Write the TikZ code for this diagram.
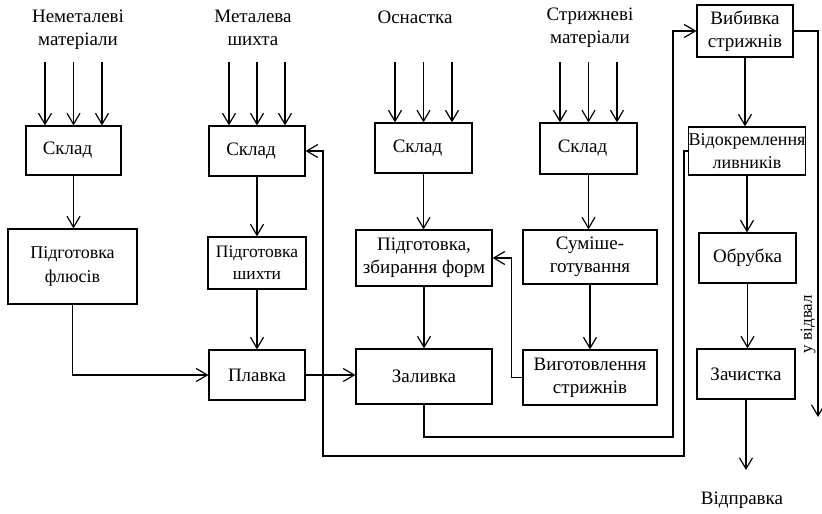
\documentclass[tikz,border=0pt]{standalone}
\usepackage{fontspec}
\setmainfont{Liberation Serif}
\usetikzlibrary{arrows.meta,positioning}
\begin{document}
\begin{tikzpicture}[x=1pt,y=-1pt,
  font=\fontsize{19}{23}\selectfont,
  line width=1.2pt,
  box/.style={draw,rectangle,inner sep=1pt,align=center},
  arr/.style={-{Straight Barb[length=11pt,width=13pt,line width=1.2pt]}},
  lbl/.style={align=center,inner sep=0pt}]
\useasboundingbox (0,0) rectangle (822,514);

% labels
\node[lbl] (l1) at (78,30) {Неметалеві\\матеріали};
\node[lbl] (l2) at (253,28) {Металева\\шихта};
\node[lbl] (l3) at (415,17) {Оснастка};
\node[lbl] (l4) at (590,28) {Стрижневі\\матеріали};
\node[lbl] (l5) at (742,500) {Відправка};

% boxes
\node[box,minimum width=95pt,minimum height=49pt] (s1) at (73.5,150.5) {\hspace*{-12pt}Склад};
\node[box,minimum width=129pt,minimum height=75pt,font=\fontsize{18}{24}\selectfont] (pf) at (72.5,266.5) {Підготовка\\флюсів};
\node[box,minimum width=96pt,minimum height=50pt] (s2) at (257,151) {\hspace*{-12pt}Склад};
\node[box,minimum width=98pt,minimum height=52pt,font=\fontsize{17.5}{22}\selectfont] (psh) at (257,263) {Підготовка\\шихти};
\node[box,minimum width=96pt,minimum height=50pt] (pl) at (257,375) {Плавка};
\node[box,minimum width=97pt,minimum height=50pt] (s3) at (423.5,148) {\hspace*{-12pt}Склад};
\node[box,minimum width=136pt,minimum height=56pt] (pzf) at (424,258) {Підготовка,\\збирання форм};
\node[box,minimum width=136pt,minimum height=55pt] (zal) at (424,376.5) {Заливка};
\node[box,minimum width=97pt,minimum height=51pt] (s4) at (588.5,148.5) {\hspace*{-12pt}Склад};
\node[box,minimum width=134pt,minimum height=54pt] (sum) at (590,257) {Суміше-\\готування};
\node[box,minimum width=134pt,minimum height=55pt] (vyg) at (590,377.5) {Виготовлення\\стрижнів};
\node[box,minimum width=96pt,minimum height=52pt] (vyb) at (745,31) {Вибивка\\стрижнів};
\node[box,minimum width=116pt,minimum height=48pt,inner sep=0pt,font=\fontsize{18}{23}\selectfont] (vid) at (747,151) {Відокремлення\\ливників};
\node[box,minimum width=97pt,minimum height=50pt] (obr) at (747.5,258) {Обрубка};
\node[box,minimum width=98pt,minimum height=50pt] (zach) at (746,374) {Зачистка};

% input arrow tops
\coordinate (a1) at (45,62); \coordinate (a2) at (73.5,62); \coordinate (a3) at (102,62);
\coordinate (b1) at (229,62); \coordinate (b2) at (257,62); \coordinate (b3) at (285,62);
\coordinate (c1) at (395,62); \coordinate (c2) at (423.5,62); \coordinate (c3) at (452,62);
\coordinate (d1) at (560,62); \coordinate (d2) at (588.5,62); \coordinate (d3) at (617,62);
\foreach \p/\b in {a1/s1,a2/s1,a3/s1,b1/s2,b2/s2,b3/s2,c1/s3,c2/s3,c3/s3,d1/s4,d2/s4,d3/s4}
  \draw[arr] (\p) -- (\p |- \b.north);

% vertical chains
\draw[arr] (s1.south) -- (s1.south |- pf.north);
\draw[arr] (s2.south) -- (psh.north);
\draw[arr] (psh.south) -- (pl.north);
\draw[arr] (s3.south) -- (s3.south |- pzf.north);
\draw[arr] (pzf.south) -- (zal.north);
\draw[arr] (s4.south) -- (s4.south |- sum.north);
\draw[arr] (sum.south) -- (vyg.north);
\draw[arr] (vyb.south) -- (vyb.south |- vid.north);
\draw[arr] (vid.south) -- (vid.south |- obr.north);
\draw[arr] (obr.south) -- (obr.south |- zach.north);
\coordinate (out) at (746,470);
\draw[arr] (zach.south) -- (out);

% cross connections
\draw[arr] (pf.south) |- (pl.west);
\draw[arr] (pl.east) -- (pl.east -| zal.west);
\draw[arr] (vyg.west) -- ++(-11,0) |- (pzf.east);
\coordinate (k1) at (673,437);
\draw[arr] (zal.south) |- (k1) |- (vyb.west);
\coordinate (k2) at (684,456);
\coordinate (k3) at (323,456);
\draw[arr] (vid.west) -| (k2) -- (k3) |- (s2.east);
\coordinate (otv) at (818,417);
\draw[arr] (vyb.east) -| (otv);
\node[lbl,rotate=90,font=\fontsize{17}{20}\selectfont] (otvl) at (808,324) {у відвал};
\end{tikzpicture}
\end{document}
